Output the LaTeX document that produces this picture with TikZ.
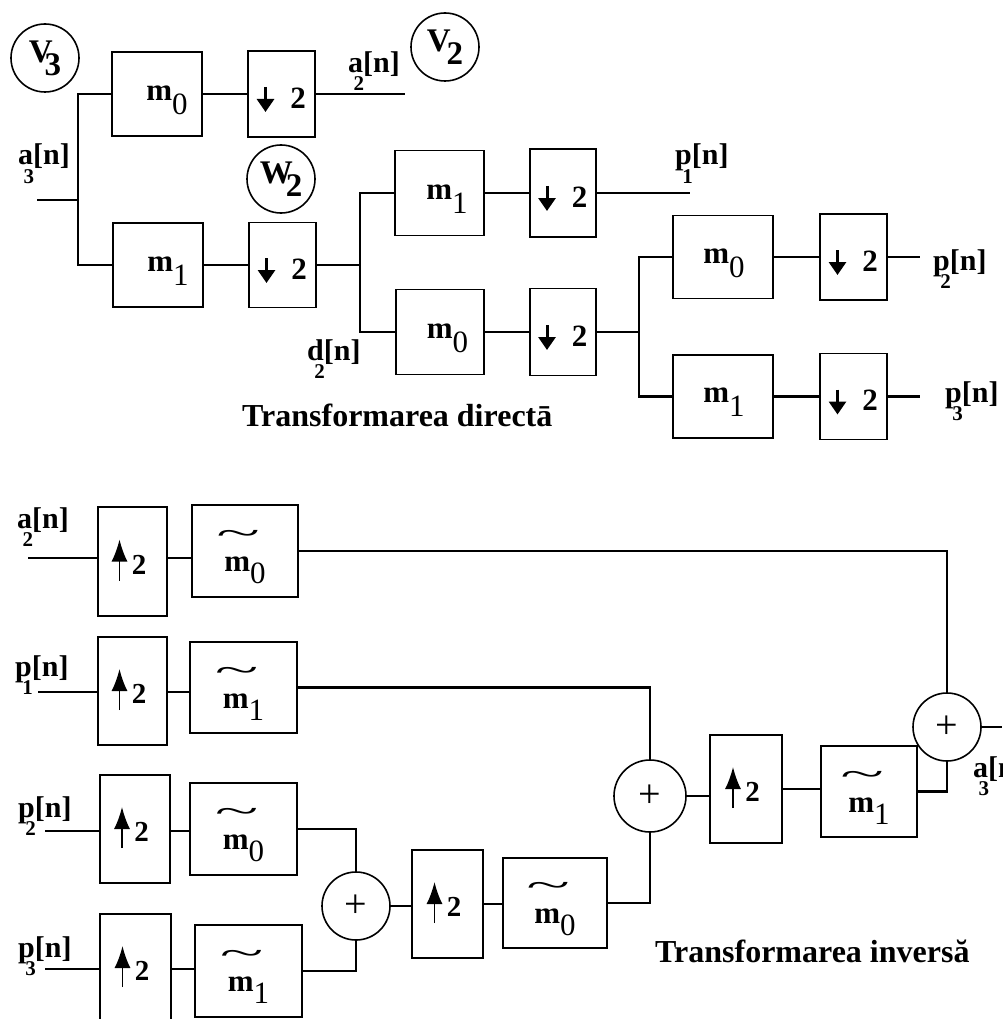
\documentclass[tikz,border=0pt]{standalone}
\usepackage{fontspec}
\setmainfont{Liberation Serif}
\usetikzlibrary{arrows.meta,calc}
% signal label: letter, subscript under it, then [n]
\newcommand{\sg}[2]{#1\makebox[0pt][r]{\raisebox{-18pt}{\fontsize{21}{21}\selectfont #2}\kern-1pt}[n]}
% filter label m with lowered index
\newcommand{\mlab}[1]{\textbf{m}\raisebox{-14pt}{#1}}
% m with a wide tilde
\newcommand{\tlm}{\makebox[0pt][l]{\hspace{-8pt}\raisebox{27pt}{\scalebox{2.6}[1.1]{\textasciitilde}}}\textbf{m}}
\newcommand{\mtl}[1]{\tlm\raisebox{-12pt}{#1}}
% shift node content: right by half of #1, down by #2
\newcommand{\sh}[3]{\raisebox{#2}[\height][\depth]{\hspace*{#1}#3}}
\newcommand{\dnarw}[1]{\draw[dnarr] ($(#1.center)+(-16,-7)$) -- ($(#1.center)+(-16,18)$);}
\newcommand{\uparw}[1]{\draw[uparr] ($(#1.center)+(-13,19)$) -- ($(#1.center)+(-13,-22)$);}
\begin{document}
\begin{tikzpicture}[x=1pt,y=-1pt,
  box/.style={draw,line width=1.9pt,inner sep=0pt,font=\fontsize{31}{33}\selectfont},
  upbox/.style={box,font=\fontsize{29}{30}\selectfont},
  circ/.style={draw,circle,line width=1.6pt,inner sep=0pt,minimum size=68pt,font=\fontsize{33}{34}\selectfont\bfseries},
  adder/.style={draw,circle,line width=1.6pt,inner sep=0pt,minimum size=#1,font=\fontsize{40}{40}\selectfont},
  wire/.style={line width=2.2pt},
  lbl/.style={anchor=base west,inner sep=0pt,font=\fontsize{30}{30}\selectfont\bfseries},
  dnarr/.style={line width=3pt,-{Triangle[width=17pt,length=13pt]}},
  uparr/.style={line width=1.6pt,-{Latex[width=16pt,length=22pt]}},
  heading/.style={anchor=base west,inner sep=0pt,font=\fontsize{32}{32}\selectfont\bfseries}
]
\fill[white] (0,0) rectangle (1002,1019);
\useasboundingbox (0,0) rectangle (1002,1019);
\clip (0,0) rectangle (1002,1019);

% ---------------- direct transform ----------------
\node[circ] (V3) at (45,58) {V\kern-8pt\raisebox{-13pt}{3}};
\node[circ] (V2) at (445,47) {V\kern-4pt\raisebox{-13pt}{2}};
\node[circ] (W2) at (281,179) {W\kern-7pt\raisebox{-13pt}{2}};

\node[box,minimum width=90pt,minimum height=84pt] (A) at (157,94) {\sh{20pt}{-6pt}{\mlab{0}}};
\node[box,minimum width=67pt,minimum height=86pt] (B) at (281.5,94) {\sh{33pt}{-4pt}{\textbf{2}}};
\node[box,minimum width=90pt,minimum height=84pt] (C) at (158,265) {\sh{20pt}{-6pt}{\mlab{1}}};
\node[box,minimum width=67pt,minimum height=85pt] (D) at (282.5,265) {\sh{33pt}{-4pt}{\textbf{2}}};

\node[box,minimum width=89pt,minimum height=85pt] (E) at (439.5,193) {\sh{15pt}{-6pt}{\mlab{1}}};
\node[box,minimum width=66pt,minimum height=88pt] (F) at (563,193) {\sh{33pt}{-4pt}{\textbf{2}}};
\node[box,minimum width=88pt,minimum height=85pt] (G) at (440,332) {\sh{15pt}{-6pt}{\mlab{0}}};
\node[box,minimum width=66pt,minimum height=87pt] (H) at (563,332) {\sh{33pt}{-4pt}{\textbf{2}}};

\node[box,minimum width=100pt,minimum height=83pt] (I) at (723,257) {\sh{2pt}{-6pt}{\mlab{0}}};
\node[box,minimum width=67pt,minimum height=86pt] (J) at (853.5,257) {\sh{33pt}{-4pt}{\textbf{2}}};
\node[box,minimum width=100pt,minimum height=83pt] (K) at (723,396.5) {\sh{2pt}{-6pt}{\mlab{1}}};
\node[box,minimum width=67pt,minimum height=86pt] (L) at (853.5,396.5) {\sh{33pt}{-4pt}{\textbf{2}}};

\foreach \n in {B,D,F,H,J,L} {\dnarw{\n}}

\coordinate (a3in) at (37,200);
\coordinate (j1) at (78,200);
\coordinate (a2out) at (405,94);
\coordinate (j2) at (360,265);
\coordinate (p1out) at (690,193);
\coordinate (j3) at (639,332);
\coordinate (p2out) at (920,257);
\coordinate (p3out) at (920,396.5);

\draw[wire] (a3in) -- (j1);
\draw[wire] (A.west) -| (j1) |- (C.west);
\draw[wire] (A) -- (B);
\draw[wire] (B) -- (a2out);
\draw[wire] (C) -- (D);
\draw[wire] (D) -- (j2);
\draw[wire] (E.west) -| (j2) |- (G.west);
\draw[wire] (E) -- (F);
\draw[wire] (F) -- (p1out);
\draw[wire] (G) -- (H);
\draw[wire] (H) -- (j3);
\draw[wire] (I.west) -| (j3) |- (K.west);
\draw[wire] (I) -- (J);
\draw[wire] (J) -- (p2out);
\draw[wire] (K) -- (L);
\draw[wire] (L) -- (p3out);

\node[lbl] (la2) at (348,73) {\sg{a}{2}};
\node[lbl] (la3) at (18,165) {\sg{a}{3}};
\node[lbl] (lp1) at (675,165) {\sg{p}{1}};
\node[lbl] (ld2) at (307,360) {\sg{d}{2}};
\node[lbl] (lp2) at (933,270) {\sg{p}{2}};
\node[lbl] (lp3) at (945,402) {\sg{p}{3}};
\node[heading] (t1) at (242,426) {Transformarea directā};

% ---------------- inverse transform ----------------
\node[upbox,minimum width=69pt,minimum height=109pt] (U1) at (132.5,561.5) {\sh{13pt}{-3pt}{\textbf{2}}};
\node[box,minimum width=106pt,minimum height=92pt] (T1) at (245,551) {\sh{0pt}{-6pt}{\mtl{0}}};
\node[upbox,minimum width=69pt,minimum height=108pt] (U2) at (132.5,691) {\sh{13pt}{-3pt}{\textbf{2}}};
\node[box,minimum width=107pt,minimum height=91pt] (T2) at (243.5,687.5) {\sh{0pt}{-6pt}{\mtl{1}}};
\node[upbox,minimum width=70pt,minimum height=108pt] (U3) at (135,829) {\sh{13pt}{-3pt}{\textbf{2}}};
\node[box,minimum width=107pt,minimum height=92pt] (T3) at (243.5,829) {\sh{0pt}{-6pt}{\mtl{0}}};
\node[upbox,minimum width=71pt,minimum height=108pt] (U4) at (135.5,968) {\sh{13pt}{-3pt}{\textbf{2}}};
\node[box,minimum width=107pt,minimum height=92pt] (T4) at (248.5,971) {\sh{0pt}{-6pt}{\mtl{1}}};

\node[adder=68pt] (S3) at (356,906) {+};
\node[upbox,minimum width=71pt,minimum height=108pt] (U5) at (447.5,904) {\sh{13pt}{-3pt}{\textbf{2}}};
\node[box,minimum width=104pt,minimum height=90pt] (T5) at (555,903) {\sh{0pt}{-6pt}{\mtl{0}}};
\node[adder=72pt] (S1) at (650,796) {+};
\node[upbox,minimum width=72pt,minimum height=108pt] (U6) at (746,789) {\sh{13pt}{-3pt}{\textbf{2}}};
\node[box,minimum width=96pt,minimum height=91pt] (T6) at (869,791.5) {\sh{0pt}{-6pt}{\mtl{1}}};
\node[adder=68pt] (S2) at (947,727) {+};

\foreach \n in {U1,U2,U3,U4,U5,U6} {\uparw{\n}}

\coordinate (ia2) at (28,558);
\coordinate (ip1) at (38,692);
\coordinate (ip2) at (45,831);
\coordinate (ip3) at (45,969);
\coordinate (a3out) at (1002,727);

\draw[wire] (ia2) -- (ia2 -| U1.west);
\draw[wire] (U1.east |- ia2) -- (T1.west |- ia2);
\draw[wire] (T1.east) -| (S2.north);
\draw[wire] (ip1) -- (ip1 -| U2.west);
\draw[wire] (U2.east |- ip1) -- (T2.west |- ip1);
\draw[wire] (T2.east) -| (S1.north);
\draw[wire] (ip2) -- (ip2 -| U3.west);
\draw[wire] (U3.east |- ip2) -- (T3.west |- ip2);
\draw[wire] (T3.east) -| (S3.north);
\draw[wire] (ip3) -- (ip3 -| U4.west);
\draw[wire] (U4.east |- ip3) -- (T4.west |- ip3);
\draw[wire] (T4.east) -| (S3.south);
\draw[wire] (S3.east) -- (S3.east -| U5.west);
\draw[wire] (U5.east) -- (U5.east -| T5.west);
\draw[wire] (T5.east) -| (S1.south);
\draw[wire] (S1.east) -- (S1.east -| U6.west);
\draw[wire] (U6.east) -- (U6.east -| T6.west);
\draw[wire] (T6.east) -| (S2.south);
\draw[wire] (S2.east) -- (a3out);

\node[lbl] (ba2) at (17,528) {\sg{a}{2}};
\node[lbl] (bp1) at (15,676) {\sg{p}{1}};
\node[lbl] (bp2) at (18,817) {\sg{p}{2}};
\node[lbl] (bp3) at (18,957) {\sg{p}{3}};
\node[lbl] (ba3) at (973,777) {\sg{a}{3}};
\node[heading] (t2) at (655,962) {Transformarea inversă};
\end{tikzpicture}
\end{document}
